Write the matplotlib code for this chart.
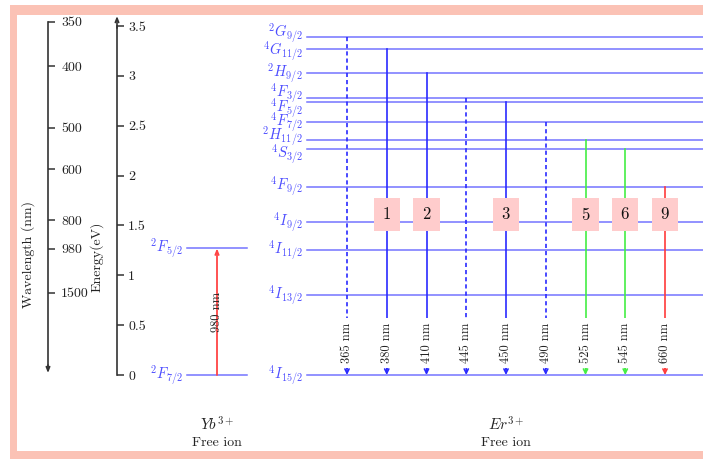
import matplotlib
matplotlib.use('Agg')
import matplotlib.pyplot as plt
from matplotlib.patches import Rectangle

plt.rcParams['font.family'] = 'cmr10'
plt.rcParams['mathtext.fontset'] = 'cm'
plt.rcParams['axes.unicode_minus'] = False
plt.rcParams['axes.formatter.use_mathtext'] = True

# ---------------- data ----------------
HC = 1239.84  # eV*nm

yb_levels = ['$^2F_{7/2}$', '$^2F_{5/2}$']
yb_energies = [0.0, 1.27]
yb_wavelength = 980

er_levels = ['$^2G_{9/2}$', '$^4G_{11/2}$', '$^2H_{9/2}$', '$^4F_{3/2}$', '$^4F_{5/2}$',
             '$^4F_{7/2}$', '$^2H_{11/2}$', '$^4S_{3/2}$', '$^4F_{9/2}$', '$^4I_{9/2}$',
             '$^4I_{11/2}$', '$^4I_{13/2}$', '$^4I_{15/2}$']
er_energies = [3.39, 3.27, 3.03, 2.78, 2.74, 2.54, 2.36, 2.27, 1.89, 1.53, 1.25, 0.80, 0.0]

trans_wavelengths = [365, 380, 410, 445, 450, 490, 525, 545, 660]
trans_upper = [0, 1, 2, 3, 4, 5, 6, 7, 8]          # index into er_levels
trans_dashed = [True, False, False, True, False, True, False, False, False]
trans_colors = ['#2a2aff', '#2a2aff', '#2a2aff', '#2a2aff', '#2a2aff', '#2a2aff',
                '#44ee44', '#44ee44', '#ff3b3b']
trans_numbers = ['', '1', '2', '', '3', '', '5', '6', '9']

energy_ticks = [0, 0.5, 1, 1.5, 2, 2.5, 3, 3.5]
energy_ticklabels = ['0', '0.5', '1', '1.5', '2', '2.5', '3', '3.5']
wavelength_ticks = [350, 400, 500, 600, 800, 980, 1500]

# ---------------- layout ----------------
W, H = 703, 459
E_BOTTOM, E_TOP = -0.8425, 3.7613
ER_X0, ER_DX = 347, 39.75
ER_LINE = (307, 712)
ER_LABEL_X = 303
YB_X, YB_LINE, YB_LABEL_X = 217, (187, 247), 183
er_label_nudge = [0.035, -0.02, 0, 0.05, -0.06, 0, 0.04, -0.06, 0, 0, 0, 0, 0]

LEVEL_C = '#7474ff'
LABEL_C = '#4c4cff'
TEXT_C = '#222222'

fig = plt.figure(figsize=(W / 100, H / 100), dpi=100)
ax = fig.add_axes([0, 0, 1, 1])
ax.set_xlim(0, W)
ax.set_ylim(E_BOTTOM, E_TOP)
ax.axis('off')

# frame
ax.add_patch(Rectangle((10 / W, 0), 1, (H - 5) / H, transform=fig.transFigure,
                       facecolor='#fbc2b5', edgecolor='none', zorder=0, clip_on=False))
ax.add_patch(Rectangle((17 / W, 8 / H), 1, (H - 15 - 8) / H, transform=fig.transFigure,
                       facecolor='white', edgecolor='none', zorder=0.5, clip_on=False))

# ---------------- Yb ----------------
for name, e in zip(yb_levels, yb_energies):
    ax.plot(YB_LINE, [e, e], color=LEVEL_C, lw=1.1, zorder=2)
    ax.text(YB_LABEL_X, e, name, color=LABEL_C, fontsize=10.5, ha='right', va='center', zorder=4)
ax.annotate('', xy=(YB_X, yb_energies[1]), xytext=(YB_X, yb_energies[0]),
            arrowprops=dict(arrowstyle='->,head_length=0.3,head_width=0.12', color='#ff4444',
                            lw=1.3, shrinkA=0, shrinkB=0), zorder=3)
ax.text(YB_X, 0.63, f'{yb_wavelength} nm', rotation=90, ha='center', va='center',
        fontsize=9, color=TEXT_C, zorder=4)
ax.text(YB_X, -0.50, '$Yb^{3+}$', ha='center', va='center', fontsize=11, color=TEXT_C)
ax.text(YB_X, -0.68, 'Free ion', ha='center', va='center', fontsize=10, color=TEXT_C)

# ---------------- Er ----------------
for name, e, dn in zip(er_levels, er_energies, er_label_nudge):
    ax.plot(ER_LINE, [e, e], color=LEVEL_C, lw=1.1, zorder=2)
    ax.text(ER_LABEL_X, e + dn, name, color=LABEL_C, fontsize=10.5, ha='right', va='center', zorder=4)

for i, (wl, up, dashed, c, num) in enumerate(zip(trans_wavelengths, trans_upper, trans_dashed,
                                                  trans_colors, trans_numbers)):
    x = ER_X0 + i * ER_DX
    eu = er_energies[up]
    ls = (0, (2.5, 1.8)) if dashed else '-'
    ax.plot([x, x], [eu, 0.06], color=c, lw=1.2, ls=ls, zorder=3)
    ax.annotate('', xy=(x, 0), xytext=(x, 0.07),
                arrowprops=dict(arrowstyle='->,head_length=0.3,head_width=0.15', color=c,
                                lw=1.2, shrinkA=0, shrinkB=0), zorder=3)
    ax.text(x, 0.32, f'{wl} nm', rotation=90, ha='center', va='center', fontsize=9,
            color=TEXT_C, zorder=4,
            bbox=dict(facecolor='white', edgecolor='none', pad=3.5))
    if num:
        ax.text(x, 1.61, r'$\mathbf{' + num + '}$', ha='center', va='center', fontsize=12,
                color='#111111', zorder=5,
                bbox=dict(boxstyle='square,pad=0.5', facecolor='#ffcccc', edgecolor='none'))

ax.text(ER_X0 + 4 * ER_DX, -0.50, '$Er^{3+}$', ha='center', va='center', fontsize=11, color=TEXT_C)
ax.text(ER_X0 + 4 * ER_DX, -0.68, 'Free ion', ha='center', va='center', fontsize=10, color=TEXT_C)

# ---------------- energy axis ----------------
axE = fig.add_axes([0, 0, 117 / W, 1])
axE.set_ylim(E_BOTTOM, E_TOP)
axE.patch.set_visible(False)
for s in ['left', 'top', 'bottom']:
    axE.spines[s].set_visible(False)
axE.spines['right'].set_bounds(0, 3.5)
axE.spines['right'].set_color('#333333')
axE.spines['right'].set_linewidth(1.2)
axE.set_xticks([])
axE.yaxis.tick_right()
axE.set_yticks(energy_ticks)
axE.set_yticklabels(energy_ticklabels)
axE.tick_params(axis='y', direction='out', length=5, width=1.1, pad=3, labelsize=10,
                colors='#333333', labelcolor=TEXT_C)
axE.annotate('', xy=(1, 3.6), xytext=(1, 3.48), xycoords=('axes fraction', 'data'),
             textcoords=('axes fraction', 'data'),
             arrowprops=dict(arrowstyle='->,head_length=0.3,head_width=0.12', color='#333333',
                             lw=1.2, shrinkA=0, shrinkB=0), annotation_clip=False)
axE.text(97 / (117), 1.19, 'Energy(eV)', rotation=90, ha='center', va='center', fontsize=10,
         color=TEXT_C, transform=axE.get_yaxis_transform())

# ---------------- wavelength axis ----------------
axW = fig.add_axes([0, 0, 48 / W, 1])
axW.set_ylim(E_BOTTOM, E_TOP)
axW.patch.set_visible(False)
for s in ['left', 'top', 'bottom']:
    axW.spines[s].set_visible(False)
axW.spines['right'].set_bounds(0.08, HC / wavelength_ticks[0])
axW.spines['right'].set_color('#333333')
axW.spines['right'].set_linewidth(1.2)
axW.set_xticks([])
axW.yaxis.tick_right()
axW.set_yticks([HC / w for w in wavelength_ticks])
axW.set_yticklabels([str(w) for w in wavelength_ticks])
axW.tick_params(axis='y', direction='out', length=5, width=1.1, pad=4.5, labelsize=10,
                colors='#333333', labelcolor=TEXT_C)
axW.annotate('', xy=(1, 0.02), xytext=(1, 0.1), xycoords=('axes fraction', 'data'),
             textcoords=('axes fraction', 'data'),
             arrowprops=dict(arrowstyle='->,head_length=0.3,head_width=0.12', color='#333333',
                             lw=1.2, shrinkA=0, shrinkB=0), annotation_clip=False)
axW.text(28 / 48, 1.21, 'Wavelength (nm)', rotation=90, ha='center', va='center', fontsize=10,
         color=TEXT_C, transform=axW.get_yaxis_transform())

fig.savefig('out.png', dpi=100)
